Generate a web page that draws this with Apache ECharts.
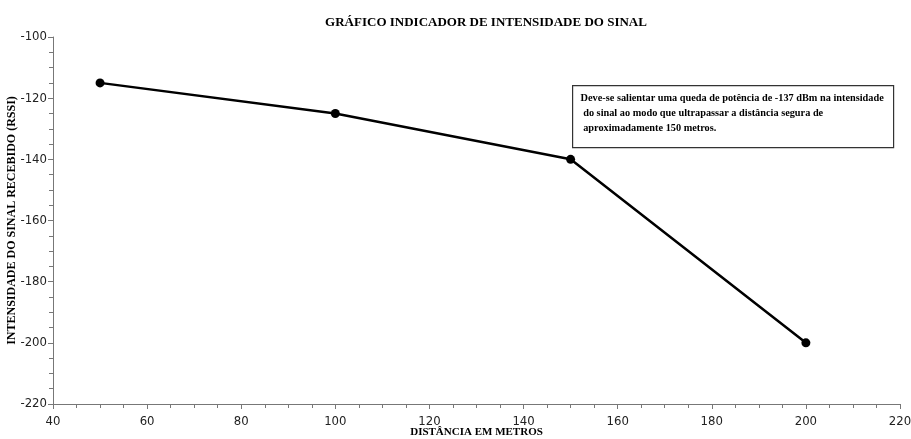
<!DOCTYPE html>
<html>
<head>
<meta charset="utf-8">
<script src="https://cdn.jsdelivr.net/npm/echarts@6/dist/echarts.min.js"></script>
<style>
html, body { margin: 0; padding: 0; background: #fff; }
#chart { width: 911px; height: 439px; }
</style>
</head>
<body>
<div id="chart"></div>
<script>
var distancias = [50, 100, 150, 200];
var rssi = [-115, -125, -140, -200];
var nota = [
    'Deve-se salientar uma queda de potência de -137 dBm na intensidade',
    ' do sinal ao modo que ultrapassar a distância segura de',
    ' aproximadamente 150 metros.'
];

var myChart = echarts.init(document.getElementById('chart'));

var pontos = distancias.map(function (d, i) { return [d, rssi[i]]; });

var serif = '"Liberation Serif", "DejaVu Serif", serif';
var sans = '"DejaVu Sans Condensed", "DejaVu Sans", sans-serif';

var option = {
    animation: false,
    backgroundColor: '#fff',
    title: {
        text: 'GRÁFICO INDICADOR DE INTENSIDADE DO SINAL',
        left: 481,
        textAlign: 'center',
        top: 11,
        textStyle: { fontFamily: serif, fontWeight: 'bold', fontSize: 13, color: '#000' }
    },
    grid: { left: 53, right: 11, top: 37, bottom: 35, containLabel: false, outerBoundsMode: 'none' },
    xAxis: {
        type: 'value',
        min: 40, max: 220, interval: 20,
        name: 'DISTÂNCIA EM METROS',
        nameLocation: 'middle',
        nameGap: 23,
        nameMoveOverlap: false,
        nameTextStyle: { fontFamily: serif, fontWeight: 'bold', fontSize: 11, color: '#000' },
        axisLine: { lineStyle: { color: '#777', width: 1 } },
        axisTick: { length: 5, lineStyle: { color: '#777' } },
        minorTick: { show: true, splitNumber: 4, length: 4, lineStyle: { color: '#777' } },
        splitLine: { show: false },
        axisLabel: { fontFamily: sans, fontSize: 13, color: '#222', margin: 11 }
    },
    yAxis: {
        type: 'value',
        min: -220, max: -100, interval: 20,
        name: 'INTENSIDADE DO SINAL RECEBIDO (RSSI)',
        nameLocation: 'middle',
        nameGap: 35,
        nameMoveOverlap: false,
        nameTextStyle: { fontFamily: serif, fontWeight: 'bold', fontSize: 12, color: '#000' },
        axisLine: { show: true, lineStyle: { color: '#777', width: 1 } },
        axisTick: { show: true, length: 5, lineStyle: { color: '#777' } },
        minorTick: { show: true, splitNumber: 4, length: 4, lineStyle: { color: '#777' } },
        splitLine: { show: false },
        axisLabel: { fontFamily: sans, fontSize: 13, color: '#222', margin: 6 }
    },
    series: [{
        type: 'line',
        data: pontos,
        symbol: 'circle',
        symbolSize: 9,
        lineStyle: { color: '#000', width: 2.5 },
        itemStyle: { color: '#000' }
    }],
    graphic: [{
        type: 'group',
        left: 572,
        top: 85,
        children: [{
            type: 'rect',
            shape: { x: 0, y: 0, width: 321, height: 62 },
            style: { fill: '#fff', stroke: '#333', lineWidth: 1.2 }
        }, {
            type: 'text',
            left: 8,
            top: 5,
            style: {
                text: nota.join('\n'),
                fontFamily: serif,
                fontWeight: 'bold',
                fontSize: 10.3,
                lineHeight: 15,
                fill: '#000'
            }
        }]
    }]
};

myChart.setOption(option);
</script>
</body>
</html>
